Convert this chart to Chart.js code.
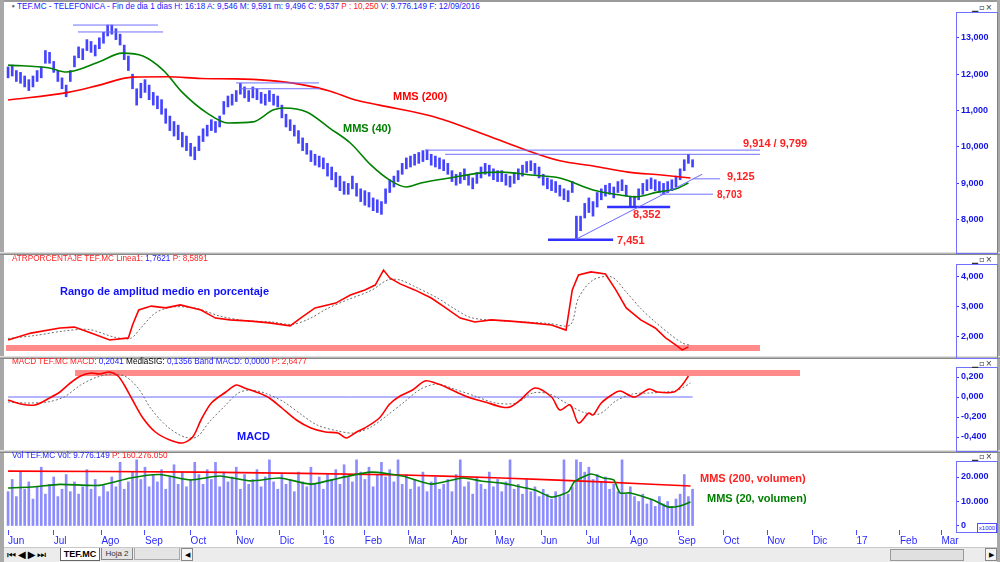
<!DOCTYPE html>
<html><head><meta charset="utf-8">
<script src="https://cdn.jsdelivr.net/npm/chart.js@4.4.1/dist/chart.umd.min.js"></script>
<style>
html,body{margin:0;padding:0;background:#fff;width:1000px;height:562px;overflow:hidden;position:relative;font-family:"Liberation Sans",Arial,sans-serif}
canvas{position:absolute}
.hdr{position:absolute;left:12px;font-size:8.2px;white-space:nowrap;line-height:10px;color:#2020ff}
.ann{position:absolute;font-weight:bold;font-size:11px;white-space:nowrap;line-height:12px}
.sep{position:absolute;left:0;width:1000px;background:#b4b4b4;border-top:1px solid #e0e0e0;border-bottom:1px solid #888}
.axbox{position:absolute;left:956px;width:40px;border:1px solid #7070ff;border-right:1px solid #7070ff}
.btn{position:absolute;left:972px;font-size:8px;line-height:8px;color:#333;letter-spacing:1px;font-family:"DejaVu Sans",sans-serif}
.r{color:#ff2020}.b{color:#2020ff}.k{color:#000}
</style></head><body>
<canvas id="c1" style="left:6px;top:13px" width="994" height="239"></canvas>
<canvas id="c2" style="left:6px;top:256px" width="994" height="101"></canvas>
<canvas id="c3" style="left:6px;top:360px" width="994" height="91"></canvas>
<canvas id="c4" style="left:6px;top:455px" width="994" height="91"></canvas>

<div style="position:absolute;left:0;top:0;width:1000px;height:2px;background:#9a9a9a"></div>
<div style="position:absolute;left:0;top:0;width:4px;height:562px;background:#a8a8a8"></div>
<div style="position:absolute;left:997px;top:0;width:3px;height:562px;background:#a8a8a8"></div>
<div class="sep" style="top:252px;height:1px"></div>
<div class="sep" style="top:356px;height:1px"></div>
<div class="sep" style="top:450px;height:1px"></div>

<div class="axbox" style="top:12px;height:240px"></div>
<div class="axbox" style="top:264px;height:93px"></div>
<div class="axbox" style="top:367px;height:83px"></div>
<div class="axbox" style="top:461px;height:70px"></div>
<div style="position:absolute;left:977px;top:523px;width:18px;height:8px;border:1px solid #5050ff;font-size:6px;line-height:8px;color:#2020ff;text-align:center;background:#fff">x1000</div>

<div class="btn" style="top:4px">▁▫×</div>
<div class="btn" style="top:256px">▁▫×</div>
<div class="btn" style="top:360px">▁▫×</div>
<div class="btn" style="top:453px">▁▫×</div>

<div class="hdr" style="top:2px"><span style="color:#555">▪</span> TEF.MC - TELEFONICA - Fin de dia 1 dias H: 16:18 A: 9,546 M: 9,591 m: 9,496 C: 9,537 <span class="r">P : 10,250</span> V: 9.776.149 F: 12/09/2016</div>
<div class="hdr" style="top:254px"><span class="r">ATRPORCENTAJE TEF.MC Linea1: </span><span class="b">1,7621</span><span class="r"> P: 8,5891</span></div>
<div class="hdr" style="top:357px"><span class="r">MACD TEF.MC MACD: </span><span class="b">0,2041</span><span class="k"> MediaSIG: </span><span class="b">0,1356 Band MACD: 0,0000</span><span class="r"> P: 2,6477</span></div>
<div class="hdr" style="top:451px"><span class="b">Vol TEF.MC Vol: 9.776.149</span><span class="r"> P: 160.276.050</span></div>

<div class="ann" style="left:393px;top:90px;color:#ff0000">MMS (200)</div>
<div class="ann" style="left:343px;top:122px;color:#008000">MMS (40)</div>
<div class="ann" style="left:743px;top:137px;color:#ff2020">9,914 / 9,799</div>
<div class="ann" style="left:727px;top:170px;color:#ff2020">9,125</div>
<div class="ann" style="left:717px;top:189px;color:#ff2020;font-size:10px">8,703</div>
<div class="ann" style="left:633px;top:208px;color:#ff2020">8,352</div>
<div class="ann" style="left:617px;top:234px;color:#ff2020">7,451</div>
<div class="ann" style="left:60px;top:285px;color:#1010ff">Rango de amplitud medio en porcentaje</div>
<div class="ann" style="left:237px;top:430px;color:#1010ff">MACD</div>
<div class="ann" style="left:700px;top:472px;color:#ff2020">MMS (200, volumen)</div>
<div class="ann" style="left:707px;top:492px;color:#008000">MMS (20, volumen)</div>

<div style="position:absolute;left:4px;top:547px;width:993px;height:15px;background:#ececec;border-top:1px solid #c8c8c8"></div>
<div style="position:absolute;left:7px;top:549px;font-size:10px;line-height:11px;color:#000;letter-spacing:2px;font-family:'DejaVu Sans'">⏮◀▶⏭</div>
<div style="position:absolute;left:60px;top:548px;width:38px;height:12px;background:#fff;border:1px solid #666;border-top:none;font-size:9px;font-weight:bold;line-height:12px;text-align:center">TEF.MC</div>
<div style="position:absolute;left:101px;top:548px;width:30px;height:11px;background:#e4e4e4;border:1px solid #888;border-top:none;font-size:8px;line-height:11px;text-align:center;color:#333">Hoja 2</div>
<div style="position:absolute;left:134px;top:548px;width:44px;height:11px;background:#e4e4e4;border:1px solid #aaa;border-top:none"></div>
<div style="position:absolute;left:181px;top:548px;width:10px;height:11px;background:#f4f4f4;border:1px solid #888;font-size:7px;line-height:11px;text-align:center">◀</div>
<div style="position:absolute;left:890px;top:549px;width:72px;height:10px;background:#e0e0e0;border:1px solid #999"></div>
<div style="position:absolute;left:985px;top:548px;width:10px;height:11px;background:#f4f4f4;border:1px solid #888;font-size:7px;line-height:11px;text-align:center">▶</div>

<script>
// ---------- axis / category data ----------
const monthDays=[0,22,45,66,88,110,131,152,172,193,214,235,257,279,300,323,345,366,388,409,430,450];
const monthLabels=['Jun','Jul','Ago','Sep','Oct','Nov','Dic','16','Feb','Mar','Abr','May','Jun','Jul','Ago','Sep','Oct','Nov','Dic','17','Feb','Mar'];
const priceTicks=[8,9,10,11,12,13];
const atrTicks=[2,3,4];
const macdTicks=[-0.4,-0.2,0,0.2];
const volTicks=[0,10000,20000];

// ---------- price (one bar every 2 sessions) ----------
const priceLow=[11.9,11.95,11.8,11.75,11.65,11.55,11.65,11.8,11.9,12.3,
12.3,12.05,11.8,11.6,11.38,11.8,12.2,12.45,12.4,12.65,
12.6,12.5,12.7,12.85,13.05,13.1,12.95,12.8,12.4,12.1,
11.6,11.15,11.35,11.5,11.3,11.15,11.05,10.9,10.65,10.45,
10.3,10.2,10.0,9.9,9.75,9.65,9.9,10.15,10.3,10.45,
10.4,10.55,10.9,11.1,11.15,11.25,11.45,11.35,11.25,11.35,
11.3,11.2,11.15,11.25,11.15,11.1,10.8,10.55,10.45,10.3,
10.1,9.9,9.8,9.6,9.5,9.45,9.4,9.2,9.1,8.9,
8.8,8.7,8.7,8.85,8.65,8.5,8.4,8.35,8.25,8.2,
8.15,8.45,8.75,8.9,9.05,9.25,9.4,9.45,9.5,9.55,
9.6,9.65,9.5,9.45,9.4,9.35,9.25,9.05,8.95,9.0,
9.1,8.95,8.85,9.0,9.15,9.25,9.2,9.1,9.05,9.05,
8.95,8.9,9.0,9.1,9.2,9.3,9.35,9.25,9.15,8.95,
8.85,8.8,8.75,8.65,8.55,8.5,8.75,7.45,7.7,8.05,
8.2,8.1,8.35,8.55,8.65,8.7,8.6,8.75,8.8,8.65,
8.35,8.35,8.55,8.7,8.8,8.85,8.8,8.75,8.7,8.75,
8.8,8.9,9.1,9.35,9.55,9.45];
const priceHigh=[12.2,12.25,12.1,12.05,11.95,11.85,11.95,12.1,12.2,12.65,
12.6,12.35,12.1,11.9,11.7,12.1,12.5,12.75,12.7,12.95,
12.9,12.8,13.0,13.15,13.35,13.35,13.25,13.1,12.8,12.5,
12.0,11.6,11.75,11.85,11.7,11.5,11.4,11.3,11.05,10.85,
10.7,10.6,10.4,10.3,10.1,10.0,10.3,10.5,10.6,10.75,
10.7,10.85,11.25,11.4,11.45,11.55,11.75,11.65,11.55,11.65,
11.6,11.5,11.45,11.55,11.45,11.4,11.15,10.9,10.75,10.6,
10.45,10.25,10.1,9.9,9.8,9.75,9.7,9.55,9.45,9.3,
9.2,9.05,9.0,9.2,9.0,8.85,8.8,8.75,8.6,8.55,
8.5,8.85,9.1,9.2,9.35,9.55,9.7,9.75,9.8,9.85,
9.9,9.92,9.8,9.75,9.7,9.65,9.55,9.35,9.25,9.3,
9.4,9.25,9.15,9.3,9.45,9.55,9.5,9.4,9.35,9.35,
9.25,9.2,9.3,9.4,9.5,9.6,9.62,9.55,9.45,9.25,
9.15,9.1,9.05,8.95,8.85,8.8,9.05,8.1,8.1,8.45,
8.6,8.5,8.75,8.85,8.95,9.0,8.9,9.05,9.1,8.95,
8.65,8.65,8.85,9.0,9.1,9.15,9.1,9.05,9.0,9.05,
9.1,9.2,9.4,9.65,9.8,9.65];

// ---------- moving averages (price) ----------
const mms200Days=[0,29,44,60,77,93,109,125,141,155,167,179,204,228,247,266,282,299,315,329];
const mms200Vals=[11.29,11.5,11.7,11.92,11.93,11.88,11.87,11.83,11.72,11.54,11.3,11.15,10.85,10.38,9.97,9.62,9.48,9.31,9.23,9.15];
const mms40Days=[0,20,28,44,55,65,75,84,96,106,118,128,133,144,155,165,175,184,192,199,213,228,238,252,266,282,295,302,313,322,328];
const mms40Vals=[12.25,12.17,12.06,12.34,12.58,12.5,12.1,11.5,10.93,10.66,10.69,11.02,11.07,10.96,10.52,10.11,9.5,9.09,8.9,9.01,9.15,9.29,9.31,9.23,9.15,8.82,8.68,8.63,8.76,8.85,9.01];

// ---------- support / resistance lines ----------
const lineLevels=[13.35,13.16,11.76,11.6,9.914,9.799,9.125,8.703,8.352,7.451];
const lineFrom=[31.3,33.7,109.9,111.8,201,210.7,330.2,314.3,288.8,260.3];
const lineTo=[72.3,74.7,149.9,150.4,362.5,362.5,343.3,339.9,319.2,291.7];
const trendDays=[273.3,334.6];
const trendVals=[7.451,9.25];

// ---------- ATR % ----------
const atrDays=[0,11,25,32,40,49,58,60,63,69,76,83,93,100,107,117,126,136,141,148,158,165,172,177,181,184,189,196,204,211,218,225,233,242,252,262,269,272,275,281,288,293,298,305,312,317,322,325,328];
const atrVals=[1.9,2.13,2.3,2.33,2.13,1.9,1.97,2.4,2.9,3.03,2.97,3.07,2.9,2.63,2.57,2.53,2.47,2.37,2.63,2.97,3.13,3.4,3.57,3.73,4.23,3.97,3.77,3.57,3.3,2.97,2.63,2.5,2.57,2.53,2.47,2.4,2.23,3.57,4.07,4.17,4.1,3.57,2.97,2.57,2.3,1.97,1.73,1.57,1.67];
const atrSigDays=[0,13,27,39,51,59,64,71,79,91,102,114,127,137,145,154,164,175,183,189,197,207,215,223,235,249,261,271,275,282,291,298,305,312,319,325,329];
const atrSigVals=[1.95,2.05,2.2,2.25,2.0,1.95,2.3,2.8,3.0,2.95,2.7,2.55,2.5,2.42,2.6,2.95,3.25,3.55,3.9,3.9,3.65,3.3,2.95,2.65,2.55,2.5,2.45,2.4,3.3,3.9,4.0,3.5,2.95,2.5,2.1,1.8,1.72];
const atrBand=1.633, atrBandFrom=-1.5, atrBandTo=362.5;

// ---------- MACD ----------
const macdDays=[0,6,13,20,25,30,35,40,44,49,53,56,60,65,71,78,84,89,93,98,105,110,114,121,126,132,139,146,153,159,163,168,172,179,184,189,195,201,206,211,217,223,230,238,242,247,254,262,266,271,275,280,282,286,291,295,302,309,313,321,325,328];
const macdVals=[-0.03,-0.07,-0.08,-0.01,0.05,0.14,0.21,0.24,0.23,0.25,0.21,0.12,-0.03,-0.21,-0.35,-0.43,-0.46,-0.4,-0.23,-0.06,0.05,0.12,0.09,0.04,-0.01,-0.11,-0.23,-0.31,-0.35,-0.36,-0.41,-0.35,-0.31,-0.21,-0.07,0.01,0.07,0.16,0.14,0.1,0.04,-0.01,-0.05,-0.1,-0.1,-0.03,0.09,0.0,-0.13,-0.08,-0.26,-0.16,-0.18,-0.06,0.02,0.06,0.0,0.08,0.05,0.05,0.12,0.21];
const macdSigDays=[0,9,19,27,35,43,51,57,63,69,77,85,91,97,104,111,117,125,133,141,149,159,167,175,183,191,199,207,215,225,235,245,253,261,269,277,285,293,301,309,317,323,329];
const macdSigVals=[-0.05,-0.06,-0.05,0.0,0.12,0.2,0.23,0.2,0.08,-0.12,-0.3,-0.4,-0.4,-0.25,-0.1,0.04,0.07,0.03,-0.05,-0.17,-0.28,-0.34,-0.36,-0.3,-0.18,-0.05,0.08,0.13,0.08,0.01,-0.06,-0.06,0.04,0.03,-0.06,-0.15,-0.17,-0.04,0.03,0.04,0.05,0.07,0.14];
const macdBand=0.24, macdBandFrom=32.3, macdBandTo=381.8;
const macdZeroFrom=0, macdZeroTo=330;

// ---------- Volume (x1000, one bar every 2 sessions) ----------
const volume=[14000,19000,12000,22000,15000,18000,11000,16000,24000,13000,17000,20000,12000,15000,21000,14000,
18000,13000,16000,23000,15000,19000,12000,17000,14000,20000,16000,26000,15000,18000,22000,
27000,19000,24000,16000,21000,18000,23000,15000,20000,25000,17000,22000,16000,19000,26000,
21000,17000,23000,19000,26000,16000,22000,18000,20000,24000,15000,21000,17000,19000,23000,
16000,20000,27000,18000,15000,21000,17000,19000,14000,22000,18000,16000,24000,17000,20000,
15000,21000,19000,23000,17000,25000,20000,18000,27000,22000,19000,24000,16000,21000,26000,
20000,23000,18000,27000,17000,21000,15000,19000,16000,22000,14000,18000,20000,15000,17000,
19000,14000,21000,27000,16000,18000,13000,20000,17000,15000,22000,16000,19000,14000,18000,
27000,15000,17000,13000,19000,14000,16000,12000,15000,13000,11000,14000,12000,27000,13000,
16000,27000,26000,22000,24000,19000,21000,18000,20000,15000,17000,14000,27000,13000,16000,
12000,10000,13000,9000,11000,8000,12000,9000,10000,8000,11000,13000,21000,12000,15000];
const volMms200Days=[0,93,190,238,286,329];
const volMms200Vals=[22400,22000,20800,19600,18000,16300];
const volMms20Days=[0,11,25,44,59,73,88,102,117,131,146,160,175,190,204,219,228,238,243,254,262,270,273,281,287,292,295,300,311,318,324,329];
const volMms20Vals=[15500,15900,17000,16600,19600,21000,18800,20400,18400,19600,17100,19600,22000,20400,17100,19600,18400,17500,16700,14700,11800,13900,18000,21200,19600,18800,13500,13500,10600,7800,8200,9800];

// ---------- helpers ----------
const X_MIN=-1, X_MAX=457;
const FONT="'Liberation Sans', Arial, sans-serif";
const pts=(d,v)=>d.map((x,i)=>({x:x,y:v[i]}));
const seg=(a,b,y)=>[{x:a,y:y},{x:b,y:y}];
const fmt3=v=>Number(v).toFixed(3).replace('.',',');
const fmtVol=v=>v===0?'0':(v/1000).toFixed(3);
function opts(yMin,yMax,ticks,fmt,showX){
  return {
    responsive:false,animation:false,events:[],
    layout:{padding:0},
    plugins:{legend:{display:false},tooltip:{enabled:false}},
    scales:{
      x:{type:'linear',min:X_MIN,max:X_MAX,offset:false,display:showX,position:'bottom',
        afterBuildTicks:s=>{s.ticks=monthDays.map(v=>({value:v}));},
        afterFit:s=>{if(showX){s.height=16;} s.paddingLeft=0;s.paddingRight=0;},
        grid:{drawOnChartArea:false,tickLength:5,color:'#4848ff',offset:false},
        border:{display:false},
        ticks:{align:'start',autoSkip:false,maxRotation:0,padding:0,color:'#2a2aff',font:{family:FONT,size:10},
          callback:(v,i)=>monthLabels[i]}},
      y:{position:'right',min:yMin,max:yMax,
        afterBuildTicks:s=>{s.ticks=ticks.map(v=>({value:v}));},
        afterFit:s=>{s.width=44;s.paddingTop=0;s.paddingBottom=0;},
        grid:{drawOnChartArea:false,tickLength:3,color:'#3c3cff'},
        border:{display:false},
        ticks:{color:'#1414e6',padding:2,font:{family:FONT,size:9,weight:'bold'},callback:fmt}}
    }
  };
}
const lineDs=(data,color,w,extra)=>Object.assign({type:'line',data:data,borderColor:color,borderWidth:w,pointRadius:0,fill:false,tension:0,order:1},extra||{});

// ---------- panel 1: price ----------
const priceBars=priceLow.map((lo,i)=>({x:i*2,y:[lo,priceHigh[i]]}));
const p1=[
  {type:'bar',data:priceBars,backgroundColor:'#4444ff',barThickness:2,order:5},
  lineDs(pts(mms200Days,mms200Vals),'#ff0000',1.6,{tension:0.4,cubicInterpolationMode:'monotone',order:2}),
  lineDs(pts(mms40Days,mms40Vals),'#008000',1.6,{tension:0.4,cubicInterpolationMode:'monotone',order:2}),
  lineDs(pts(trendDays,trendVals),'#6a6aff',1)
];
lineLevels.forEach((lv,i)=>{
  const w=(lv===8.352||lv===7.451)?2.5:1;
  p1.push(lineDs(seg(lineFrom[i],lineTo[i],lv),w>1?'#3030ff':'#7070ff',w));
});
new Chart(document.getElementById('c1'),{type:'bar',data:{datasets:p1},options:opts(7.115,13.681,priceTicks,fmt3,false)});

// ---------- panel 2: ATR % ----------
new Chart(document.getElementById('c2'),{type:'line',data:{datasets:[
  lineDs(seg(atrBandFrom,atrBandTo,atrBand),'#ff8a8a',6,{order:3}),
  lineDs(pts(atrSigDays,atrSigVals),'#6e6e6e',1,{borderDash:[2,2],tension:0.3,order:2}),
  lineDs(pts(atrDays,atrVals),'#ff0000',1.6,{order:1})
]},options:opts(1.333,4.7,atrTicks,fmt3,false)});

// ---------- panel 3: MACD ----------
new Chart(document.getElementById('c3'),{type:'line',data:{datasets:[
  lineDs(seg(macdBandFrom,macdBandTo,macdBand),'#ff8a8a',6,{order:4}),
  lineDs(seg(macdZeroFrom,macdZeroTo,0),'#6a6aff',1,{order:3}),
  lineDs(pts(macdSigDays,macdSigVals),'#6e6e6e',1,{borderDash:[2,2],tension:0.3,order:2}),
  lineDs(pts(macdDays,macdVals),'#ff0000',1.6,{tension:0.3,order:1})
]},options:opts(-0.54,0.37,macdTicks,fmt3,false)});

// ---------- panel 4: volume ----------
const volBars=volume.map((v,i)=>({x:i*2,y:v}));
new Chart(document.getElementById('c4'),{type:'bar',data:{datasets:[
  {type:'bar',data:volBars,backgroundColor:'#8c8cff',barThickness:2,order:5},
  lineDs(pts(volMms200Days,volMms200Vals),'#ff0000',1.6,{tension:0.3,order:2}),
  lineDs(pts(volMms20Days,volMms20Vals),'#008000',1.6,{tension:0.2,order:1})
]},options:opts(-1633,28980,volTicks,fmtVol,true)});
</script>
</body></html>
